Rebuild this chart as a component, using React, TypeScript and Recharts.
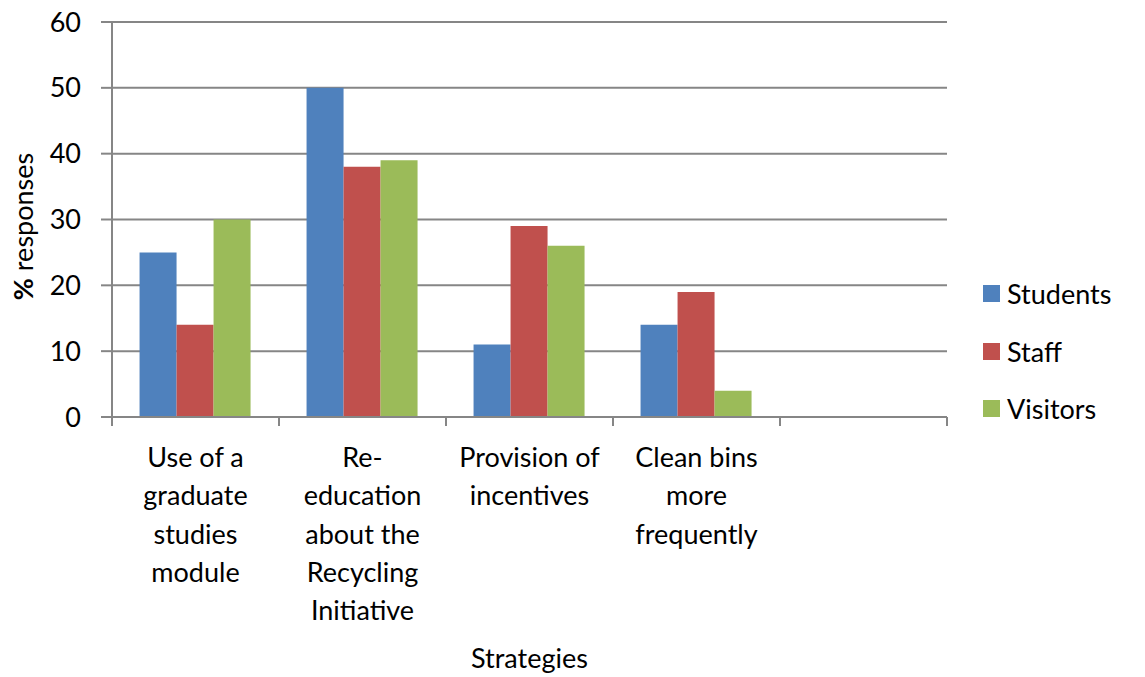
import React from "react";
import { BarChart, Bar, XAxis, YAxis, CartesianGrid, Legend } from "recharts";

// category labels, already broken into the lines they wrap to
const categories: string[][] = [
  ["Use of a", "graduate", "studies", "module"],
  ["Re-", "education", "about the", "Recycling", "Initiative"],
  ["Provision of", "incentives"],
  ["Clean bins", "more", "frequently"],
  [],
];

const students = [25, 50, 11, 14, null];
const staff = [14, 38, 29, 19, null];
const visitors = [30, 39, 26, 4, null];

const yTicks = [0, 10, 20, 30, 40, 50, 60];

const series = [
  { key: "students", name: "Students", color: "#4F81BD" },
  { key: "staff", name: "Staff", color: "#C0504D" },
  { key: "visitors", name: "Visitors", color: "#9BBB59" },
];

const data = categories.map((lines, i) => ({
  name: lines.join(" "),
  students: students[i],
  staff: staff[i],
  visitors: visitors[i],
}));

const AXIS = "#868686";
const FONT = 27;
const LINE_H = 38.3;

function CategoryTick(props: any) {
  const { x, y, payload, index, visibleTicksCount } = props;
  const half = payload.offset ?? 0;
  const axisY = y - 9;
  const lines = categories[index] ?? [];
  const isLast = index === visibleTicksCount - 1;
  return (
    <g>
      <line x1={x - half} x2={x - half} y1={axisY} y2={axisY + 9} stroke={AXIS} strokeWidth={2} />
      {isLast && (
        <line x1={x + half} x2={x + half} y1={axisY} y2={axisY + 9} stroke={AXIS} strokeWidth={2} />
      )}
      <text x={x} y={y} textAnchor="middle" fontSize={FONT} fill="#000">
        {lines.map((l, i) => (
          <tspan key={i} x={x} y={y + 41 + i * LINE_H}>
            {l}
          </tspan>
        ))}
      </text>
    </g>
  );
}

// legend keeps the series order instead of sorting by name
function LegendContent(props: any) {
  const { payload = [] } = props;
  const items = series
    .map((s) => payload.find((p: any) => p.dataKey === s.key))
    .filter(Boolean);
  return (
    <div>
      {items.map((p: any) => (
        <div key={p.value} style={{ height: 57.5, display: "flex", alignItems: "center" }}>
          <span style={{ width: 17, height: 17, background: p.color, marginRight: 7, display: "inline-block" }} />
          <span style={{ fontSize: FONT, color: "#000" }}>{p.value}</span>
        </div>
      ))}
    </div>
  );
}

export default function App() {
  return (
    <div style={{ position: "absolute", left: 0, top: 0, background: "#fff", fontFamily: "Lato, sans-serif" }}>
      <BarChart
        width={1145}
        height={677}
        data={data}
        margin={{ top: 22, right: 48, bottom: 60, left: 0 }}
        barGap={0}
        barCategoryGap="16.5%"
      >
        <CartesianGrid vertical={false} stroke={AXIS} strokeWidth={2} />
        <XAxis
          dataKey="name"
          height={200}
          axisLine={{ stroke: AXIS, strokeWidth: 2 }}
          tickLine={false}
          tickSize={9}
          tickMargin={0}
          interval={0}
          tick={<CategoryTick />}
          label={{
            content: (p: any) => {
              const vb = p.viewBox;
              return (
                <text x={vb.x + vb.width / 2} y={vb.y + 251} textAnchor="middle" fontSize={FONT} fill="#000">
                  Strategies
                </text>
              );
            },
          }}
        />
        <YAxis
          width={112}
          domain={[0, 60]}
          ticks={yTicks}
          interval={0}
          axisLine={{ stroke: AXIS, strokeWidth: 2 }}
          tickLine={{ stroke: AXIS, strokeWidth: 2 }}
          tickSize={11}
          tickMargin={20}
          tick={{ fontSize: FONT, fill: "#000" }}
          label={{
            content: (p: any) => {
              const vb = p.viewBox;
              const cx = 33;
              const cy = vb.y + vb.height / 2 + 7;
              return (
                <text x={cx} y={cy} transform={`rotate(-90 ${cx} ${cy})`} textAnchor="middle" fontSize={FONT} fill="#000">
                  <tspan fontWeight="bold">%</tspan> responses
                </text>
              );
            },
          }}
        />
        <Legend
          layout="vertical"
          align="right"
          verticalAlign="middle"
          content={<LegendContent />}
          wrapperStyle={{ width: 150, left: 983, top: 265 }}
        />
        {series.map((s) => (
          <Bar key={s.key} dataKey={s.key} name={s.name} fill={s.color} isAnimationActive={false} />
        ))}
      </BarChart>
    </div>
  );
}
